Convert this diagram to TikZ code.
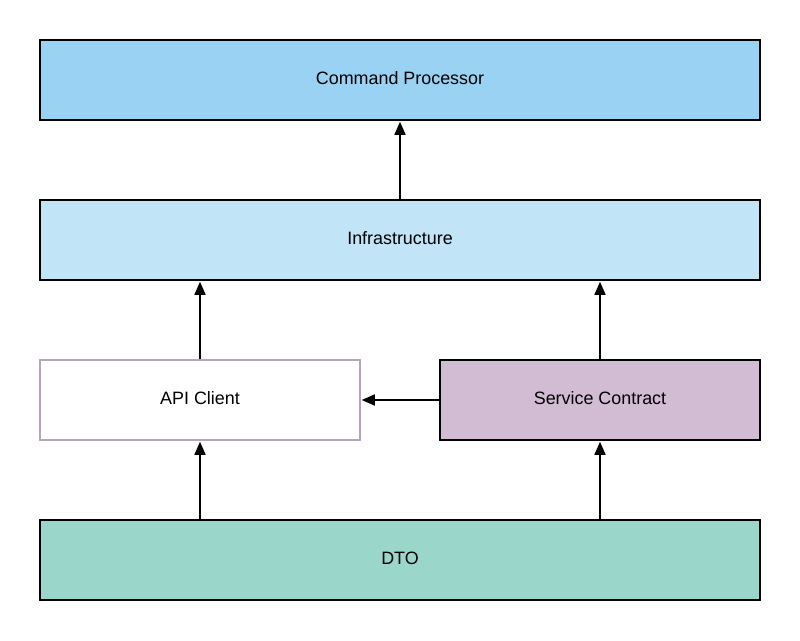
\documentclass[tikz,border=0pt]{standalone}
\usepackage{fontspec}
\setmainfont{Liberation Sans}
\usetikzlibrary{arrows.meta}
\definecolor{cpfill}{HTML}{99D2F2}
\definecolor{inffill}{HTML}{C2E4F7}
\definecolor{scfill}{HTML}{D2BCD3}
\definecolor{dtofill}{HTML}{9AD6C9}
\definecolor{apiborder}{HTML}{B4A6B8}
\tikzset{
  box/.style={draw=black, line width=1.5pt, minimum height=80pt, inner sep=0pt},
  wide/.style={box, minimum width=720pt},
  half/.style={box, minimum width=320pt},
  lbl/.style={inner sep=0pt, font=\fontsize{17.9}{20}\selectfont},
  conn/.style={line width=1.5pt, -{Triangle[length=13pt,width=11pt]}, shorten >=1pt}
}
\begin{document}
\begin{tikzpicture}[x=1pt,y=-1pt]
\useasboundingbox (0,0) rectangle (800,640);
\node[wide, fill=cpfill] (cp) at (400,80) {};
\node[wide, fill=inffill] (inf) at (400,240) {};
\node[half, fill=white, draw=apiborder] (api) at (200,400) {};
\node[half, fill=scfill] (sc) at (600,400) {};
\node[wide, fill=dtofill] (dto) at (400,560) {};
\node[lbl] (cpl) at ([yshift=2pt]cp.center) {Command Processor};
\node[lbl] (infl) at ([yshift=2pt]inf.center) {Infrastructure};
\node[lbl] (apil) at ([yshift=2pt]api.center) {API Client};
\node[lbl] (scl) at ([yshift=2pt]sc.center) {Service Contract};
\node[lbl] (dtol) at ([yshift=2pt]dto.center) {DTO};
\draw[conn] (inf.north) -- (cp.south);
\draw[conn] (api.north) -- (api.north |- inf.south);
\draw[conn] (sc.north) -- (sc.north |- inf.south);
\draw[conn] (sc.west) -- (api.east);
\draw[conn] (dto.north -| api.south) -- (api.south);
\draw[conn] (dto.north -| sc.south) -- (sc.south);
\end{tikzpicture}
\end{document}
